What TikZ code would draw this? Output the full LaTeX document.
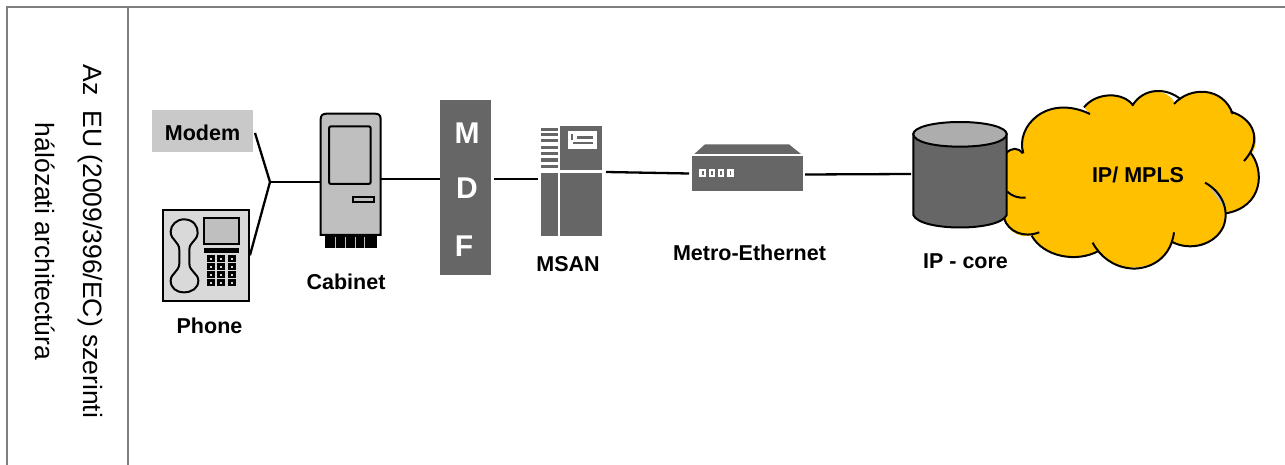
\documentclass[tikz,border=0pt]{standalone}
\usepackage{fontspec}
\setmainfont{Liberation Sans}
\definecolor{framegray}{HTML}{7F7F7F}
\definecolor{darkdev}{HTML}{666666}
\definecolor{lightdev}{HTML}{BFBFBF}
\definecolor{phonegray}{HTML}{D9D9D9}
\definecolor{cloudgold}{HTML}{FFC000}
\tikzset{
  lbl/.style={font=\fontsize{21.5}{24}\selectfont\bfseries,text=black,inner sep=0pt},
  rotlbl/.style={font=\fontsize{26.5}{30}\selectfont,text=black,inner sep=0pt,rotate=-90},
  mdfletter/.style={font=\fontsize{30}{34}\selectfont\bfseries,text=white,inner sep=0pt},
  devbox/.style={inner sep=0pt,outer sep=0pt,rectangle},
  wire/.style={draw=black,line width=2.3pt},
  frameline/.style={draw=framegray,line width=2pt},
  outline/.style={draw=black,line width=2pt},
  zoomA/.style={shift={(130,90)},x=0.33333pt,y=-0.33333pt},
  zoomB/.style={shift={(430,90)},x=0.33333pt,y=-0.33333pt},
  zoomC/.style={shift={(900,90)},x=0.33333pt,y=-0.33333pt},
}
\begin{document}
\begin{tikzpicture}[x=1pt,y=-1pt]
\useasboundingbox (0,0) rectangle (1285,465);
% frame
\draw[frameline] (7,465) -- (7,7) -- (1285,7);
\draw[frameline] (128,7) -- (128,465);
\node[rotlbl] (t1) at (90,241.5) {Az\ \ EU (2009/396/EC) szerinti};
\node[rotlbl] (t2) at (45,241.5) {hálózati architectúra};

% device nodes
\node[devbox,fill=lightdev!85!white,minimum width=101pt,minimum height=42pt] (modem) at (202.5,131) {};
\node[lbl] at (202.5,133) {Modem};
\node[devbox,draw=black,line width=2pt,fill=phonegray,minimum width=85.5pt,minimum height=90.5pt] (phone) at (206.2,255.3) {};
\node[devbox,minimum width=60pt,minimum height=122pt] (cabinet) at (351,174) {};
\node[devbox,fill=darkdev,minimum width=51pt,minimum height=175pt] (mdf) at (465.5,187.5) {};
\node[devbox,minimum width=62pt,minimum height=110pt] (msan) at (572,181.5) {};
\node[devbox,minimum width=112pt,minimum height=35pt] (metro) at (747,173.5) {};
\node[devbox,minimum width=94pt,minimum height=105pt] (core) at (960,174) {};
\coordinate (joint) at (270,182);

% connectors
\draw[wire] ([yshift=-2pt,xshift=2pt]modem.east) -- (joint) -- ([yshift=0pt,xshift=1pt]phone.east);
\draw[wire] (joint) -- (joint -| cabinet.west);
\draw[wire] ([yshift=-5pt]cabinet.east) -- ([yshift=8.5pt]mdf.west);
\draw[wire] ([xshift=3pt,yshift=8.5pt]mdf.east) -- ([xshift=-3pt,yshift=2.5pt]msan.west);
\draw[wire] ([xshift=3pt,yshift=9.5pt]msan.east) -- ([xshift=-2pt]metro.west);
\draw[wire] ([xshift=2pt,yshift=-1pt]metro.east) -- ([xshift=-2pt]core.west);

% phone details
\begin{scope}[zoomA]
  \draw[outline] (162,388) .. controls (190,388) and (205,410) .. (203,430)
    .. controls (200,455) and (178,455) .. (178,480) -- (178,520)
    .. controls (178,545) and (205,550) .. (205,572)
    .. controls (205,595) and (185,607) .. (162,607)
    .. controls (140,607) and (122,595) .. (122,572)
    .. controls (122,550) and (148,545) .. (148,520) -- (148,480)
    .. controls (148,455) and (122,450) .. (122,425)
    .. controls (122,405) and (140,388) .. (162,388) -- cycle;
  \draw[outline,fill=lightdev] (221,385) rectangle (328,463);
  \fill[black] (222,475) rectangle (328,490);
  \foreach \cx in {243,274,305} \foreach \cy in {506,530,554,578} {
    \fill[black] (\cx-12,\cy-11) rectangle (\cx+12,\cy+11);
    \fill[phonegray] (\cx-3,\cy-3) rectangle (\cx+3,\cy+3);
  }
  % cabinet
  \fill[black] (585,437) rectangle (740,475);
  \foreach \sx in {615,645,675,703} \draw[lightdev,line width=0.7pt] (\sx,440) -- (\sx,473);
  \draw[outline,fill=lightdev] (572,435) -- (572,88) .. controls (572,76) and (578,71) .. (590,71)
    -- (735,71) .. controls (747,71) and (752,76) .. (752,88) -- (752,435) -- cycle;
  \draw[outline,fill=lightdev,rounded corners=2pt] (597,109) rectangle (722,282);
  \draw[outline,fill=lightdev] (670,320) rectangle (733,337);
\end{scope}

% MDF letters
\node[mdfletter] at (467,133) {M};
\node[mdfletter] at (467,188) {D};
\node[mdfletter] at (464,246) {F};

% MSAN and metro details
\begin{scope}[zoomB]
  \foreach \sy/\sh in {114/9,130/9,148/9,168/9,186/9,204/12,225/9} \fill[darkdev] (333,\sy) rectangle (383,\sy+\sh);
  \fill[darkdev] (390,108) rectangle (517,240);
  \fill[darkdev] (333,250) rectangle (383,437);
  \fill[darkdev] (390,250) rectangle (517,437);
  \fill[white] (415,123) rectangle (500,178);
  \fill[darkdev] (424,131) rectangle (430,150);
  \fill[darkdev] (440,139) rectangle (490,146);
  \fill[darkdev] (430,155) rectangle (490,163);
  % metro
  \fill[darkdev] (793,192) -- (825,163) -- (1077,163) -- (1113,192) -- cycle;
  \fill[darkdev] (785,199) rectangle (1120,304);
  \foreach \px in {819,847,874,902} {
    \fill[white] (\px-11,238) rectangle (\px+9,262);
    \fill[darkdev] (\px-3,244) rectangle (\px+2,256);
  }
\end{scope}

% cloud
\begin{scope}[zoomC]
  \fill[cloudgold] (370,185) .. controls (350,110) and (440,10) .. (570,72)
    -- (552,52) .. controls (590,5) and (670,5) .. (700,45)
    .. controls (730,-8) and (800,-8) .. (825,40)
    .. controls (870,-12) and (970,-10) .. (995,68)
    .. controls (1060,85) and (1085,150) .. (1055,190)
    .. controls (1095,240) and (1090,350) .. (978,370)
    .. controls (985,440) and (880,500) .. (820,455)
    .. controls (790,545) and (640,560) .. (595,482)
    .. controls (530,520) and (430,500) .. (395,437)
    .. controls (360,445) and (325,425) .. (312,390)
    -- (300,200) .. controls (320,180) and (345,170) .. (370,185) -- cycle;
  \fill[lightdev] (925,285) .. controls (955,300) and (975,325) .. (978,360) -- cycle;
  \begin{scope}[line width=2pt,draw=black]
    \draw (370,190) .. controls (345,110) and (440,10) .. (570,72);
    \draw (552,52) .. controls (590,5) and (670,5) .. (700,47);
    \draw (697,47) .. controls (730,-8) and (800,-8) .. (842,28);
    \draw (822,42) .. controls (870,-12) and (970,-10) .. (998,72);
    \draw (992,65) .. controls (1060,85) and (1090,150) .. (1032,213);
    \draw (1050,186) .. controls (1095,240) and (1090,350) .. (978,370);
    \draw (915,278) .. controls (965,305) and (990,360) .. (970,410)
       .. controls (945,465) and (870,485) .. (815,455);
    \draw (822,427) .. controls (810,520) and (730,540) .. (690,535)
       .. controls (640,530) and (600,500) .. (578,458);
    \draw (597,482) .. controls (530,520) and (430,500) .. (395,437);
    \draw (418,427) .. controls (370,445) and (325,425) .. (312,385);
    \draw (377,323) .. controls (355,325) and (335,318) .. (322,305);
    \draw (368,190) .. controls (355,172) and (335,172) .. (318,190);
  \end{scope}
  % cylinder
  \draw[outline] [fill=darkdev] (40,132) -- (40,375) .. controls (60,425) and (300,425) .. (320,375) -- (320,132) -- cycle;
  \draw[outline] [fill=lightdev!80!darkdev] (180,96) .. controls (260,96) and (320,112) .. (320,132)
    .. controls (320,155) and (260,170) .. (180,170)
    .. controls (100,170) and (40,155) .. (40,132)
    .. controls (40,112) and (100,96) .. (180,96) -- cycle;
\end{scope}

% labels
\node[lbl] (lphone) at (209.5,326) {Phone};
\node[lbl] (lcab) at (346,282) {Cabinet};
\node[lbl] (lmsan) at (568,264) {MSAN};
\node[lbl] (lmetro) at (749.5,253) {Metro-Ethernet};
\node[lbl] (lcore) at (965.5,261) {IP - core};
\node[lbl] (lcloud) at (1138,175) {IP/ MPLS};
\end{tikzpicture}
\end{document}
